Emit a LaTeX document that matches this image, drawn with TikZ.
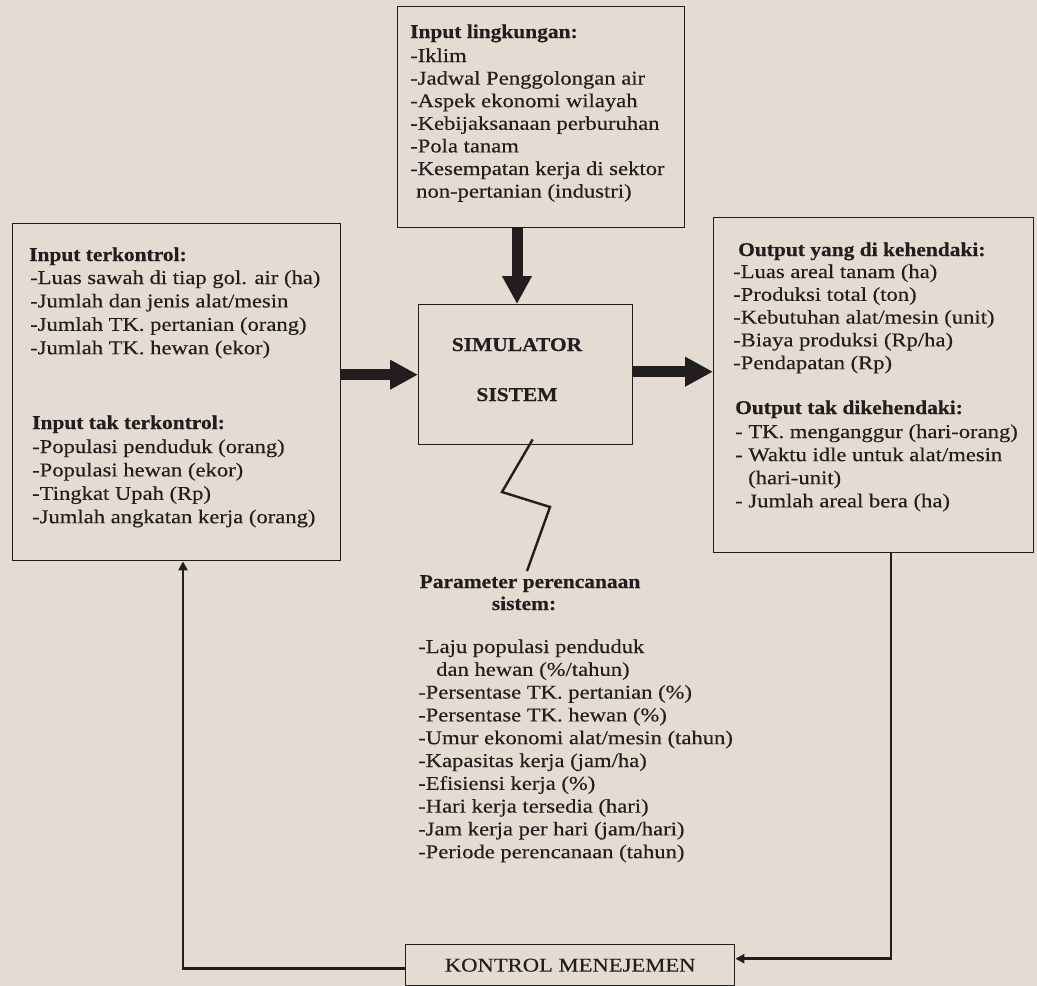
\documentclass[tikz,border=0pt]{standalone}
\usepackage{fontspec}
\setmainfont{Liberation Serif}[FakeStretch=1.16, FakeBold=0.35, BoldFeatures={FakeStretch=1.1}]
\usetikzlibrary{arrows.meta}
\definecolor{paper}{RGB}{228,220,211}
\definecolor{ink}{RGB}{32,30,30}
\begin{document}
\begin{tikzpicture}[x=1pt,y=-1pt,
  every node/.style={text=ink, inner sep=0pt, font=\fontsize{19.5}{22.6}\selectfont},
  box/.style={draw=ink, line width=1.4pt, anchor=north west},
  bigarrow/.style={draw=ink, line width=11pt, -{Triangle[width=28pt,length=28pt]}},
  feed/.style={draw=ink, line width=2.6pt, -{Triangle[width=9pt,length=9pt]}},
  zig/.style={draw=ink, line width=2.4pt, line join=miter},
  ln/.style={anchor=base west},
  hd/.style={anchor=base west, font=\fontsize{19.5}{22.6}\selectfont\bfseries}]
\useasboundingbox (0,0) rectangle (1037,986);
\fill[paper] (0,0) rectangle (1037,986);

% boxes
\node[box, minimum width=287pt, minimum height=221pt] (lk) at (397,6) {};
\node[box, minimum width=214pt, minimum height=140pt] (sim) at (418,304) {};
\node[box, minimum width=328pt, minimum height=337pt] (inp) at (12,223) {};
\node[box, minimum width=320pt, minimum height=335pt] (out) at (713,217) {};
\node[box, minimum width=329pt, minimum height=41pt] (kon) at (405,944) {KONTROL MENEJEMEN};

% top box text
\node[hd] (lkh) at (410,38) {Input lingkungan:};
\foreach \t [count=\i] in {{-Iklim},{-Jadwal Penggolongan air},{-Aspek ekonomi wilayah},{-Kebijaksanaan perburuhan},{-Pola tanam},{-Kesempatan kerja di sektor},{\hspace*{6pt}non-pertanian (industri)}}
  \node[ln] (lk\i) at (410,{62+(\i-1)*22.6}) {\t};

% left box text
\node[hd] (inh1) at (29,261) {Input terkontrol:};
\foreach \t [count=\i] in {{-Luas sawah di tiap gol. air (ha)},{-Jumlah dan jenis alat/mesin},{-Jumlah TK. pertanian (orang)},{-Jumlah TK. hewan (ekor)}}
  \node[ln] (ina\i) at (30,{284+(\i-1)*23.4}) {\t};
\node[hd] (inh2) at (32,429) {Input tak terkontrol:};
\foreach \t [count=\i] in {{-Populasi penduduk (orang)},{-Populasi hewan (ekor)},{-Tingkat Upah (Rp)},{-Jumlah angkatan kerja (orang)}}
  \node[ln] (inb\i) at (32,{453+(\i-1)*23.4}) {\t};

% right box text
\node[hd] (outh1) at (738,256) {Output yang di kehendaki:};
\foreach \t [count=\i] in {{-Luas areal tanam (ha)},{-Produksi total (ton)},{-Kebutuhan alat/mesin (unit)},{-Biaya produksi (Rp/ha)},{-Pendapatan (Rp)}}
  \node[ln] (outa\i) at (733,{278+(\i-1)*22.8}) {\t};
\node[hd] (outh2) at (735,414) {Output tak dikehendaki:};
\foreach \t [count=\i] in {{- TK. menganggur (hari-orang)},{- Waktu idle untuk alat/mesin},{\hspace*{13pt}(hari-unit)},{- Jumlah areal bera (ha)}}
  \node[ln] (outb\i) at (735,{438+(\i-1)*23.1}) {\t};

% simulator text
\node[anchor=base, font=\fontsize{19.5}{22.6}\selectfont\bfseries] (sim1) at (517,351) {SIMULATOR};
\node[anchor=base, font=\fontsize{19.5}{22.6}\selectfont\bfseries] (sim2) at (517,401) {SISTEM};

% parameter text
\node[anchor=base, font=\fontsize{19.5}{22.6}\selectfont\bfseries] (ph1) at (530,588) {Parameter perencanaan};
\node[anchor=base, font=\fontsize{19.5}{22.6}\selectfont\bfseries] (ph2) at (524,610) {sistem:};
\foreach \t [count=\i] in {{-Laju populasi penduduk},{\hspace*{18pt}dan hewan (\%/tahun)},{-Persentase TK. pertanian (\%)},{-Persentase TK. hewan (\%)},{-Umur ekonomi alat/mesin (tahun)},{-Kapasitas kerja (jam/ha)},{-Efisiensi kerja (\%)},{-Hari kerja tersedia (hari)},{-Jam kerja per hari (jam/hari)},{-Periode perencanaan (tahun)}}
  \node[ln] (pl\i) at (418,{653+(\i-1)*22.8}) {\t};

% thick arrows
\draw[bigarrow] ([xshift=120pt]lk.south west) -- ([xshift=99pt]sim.north west);
\draw[bigarrow] (inp.east |- sim.west) -- (sim.west);
\draw[bigarrow] ([yshift=3pt]sim.east) -- ([yshift=3pt]sim.east -| out.west);

% zigzag
\coordinate (z1) at (502,492);
\coordinate (z2) at (550,507);
\draw[zig] ([xshift=7pt,yshift=6pt]sim.south) -- (z1) -- (z2) -- ([xshift=-3pt,yshift=4pt]ph1.north);

% feedback lines
\draw[feed] ([xshift=178pt]out.south west) |- ([yshift=6.5pt]kon.east);
\draw[feed] ([yshift=-3.5pt]kon.west) -| ([xshift=171pt]inp.south west);
\end{tikzpicture}
\end{document}
